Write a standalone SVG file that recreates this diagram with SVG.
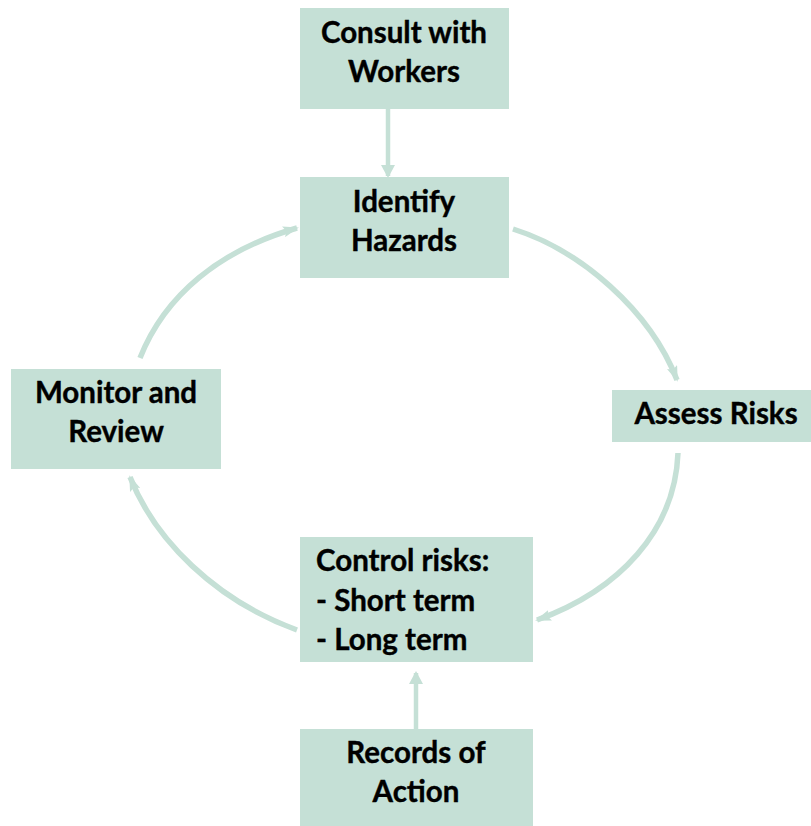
<svg xmlns="http://www.w3.org/2000/svg" width="811" height="826" viewBox="0 0 811 826">
<style>
.box{fill:#C5E0D6}
.t{font-family:Lato,"Open Sans","Liberation Sans",sans-serif;font-weight:bold;font-size:29.5px;fill:#000;stroke:#000;stroke-width:0.4}
.c{text-anchor:middle}
.ln{fill:none;stroke:#C5E0D6;stroke-width:4.5}
.arc{fill:none;stroke:#C5E0D6;stroke-width:5.5}
</style>
<defs>
<marker id="ah" viewBox="0 0 13 14" refX="11" refY="7" markerWidth="13" markerHeight="14" markerUnits="userSpaceOnUse" orient="auto">
<path d="M0,0 L13,7 L0,14 z" fill="#C5E0D6"/>
</marker>
<marker id="ac" viewBox="0 0 16 11" refX="14" refY="5.5" markerWidth="16" markerHeight="11" markerUnits="userSpaceOnUse" orient="auto">
<path d="M0,0 L16,5.5 L0,11 L3,5.5 z" fill="#C5E0D6"/>
</marker>
</defs>
<g id="connectors">
<line class="ln" x1="388" y1="109" x2="388" y2="176" marker-end="url(#ah)"/>
<line class="ln" x1="416" y1="729" x2="416" y2="673" marker-end="url(#ah)"/>
<path class="arc" d="M513,229 C580,250 650,310 677,380" marker-end="url(#ac)"/>
<path class="arc" d="M678,453 C675,530 620,590 537,620" marker-end="url(#ac)"/>
<path class="arc" d="M297,630 C215,600 155,540 130,477" marker-end="url(#ac)"/>
<path class="arc" d="M140,358 C165,295 220,250 297,228" marker-end="url(#ac)"/>
</g>
<g id="consult">
<rect class="box" x="300" y="8" width="209" height="101"/>
<text class="t c" x="404" y="43">Consult with</text>
<text class="t c" x="404" y="82">Workers</text>
</g>
<g id="identify">
<rect class="box" x="300" y="177" width="209" height="101"/>
<text class="t c" x="404" y="212">Identify</text>
<text class="t c" x="404" y="251">Hazards</text>
</g>
<g id="assess">
<rect class="box" x="612" y="390" width="199" height="52"/>
<text class="t c" x="716" y="424">Assess Risks</text>
</g>
<g id="monitor">
<rect class="box" x="11" y="369" width="210" height="100"/>
<text class="t c" x="116" y="403">Monitor and</text>
<text class="t c" x="116" y="442">Review</text>
</g>
<g id="control">
<rect class="box" x="300" y="537" width="233" height="125"/>
<text class="t" x="316" y="571">Control risks:</text>
<text class="t" x="316" y="611">- Short term</text>
<text class="t" x="316" y="650">- Long term</text>
</g>
<g id="records">
<rect class="box" x="300" y="729" width="233" height="97"/>
<text class="t c" x="416" y="763">Records of</text>
<text class="t c" x="416" y="802">Action</text>
</g>
</svg>
